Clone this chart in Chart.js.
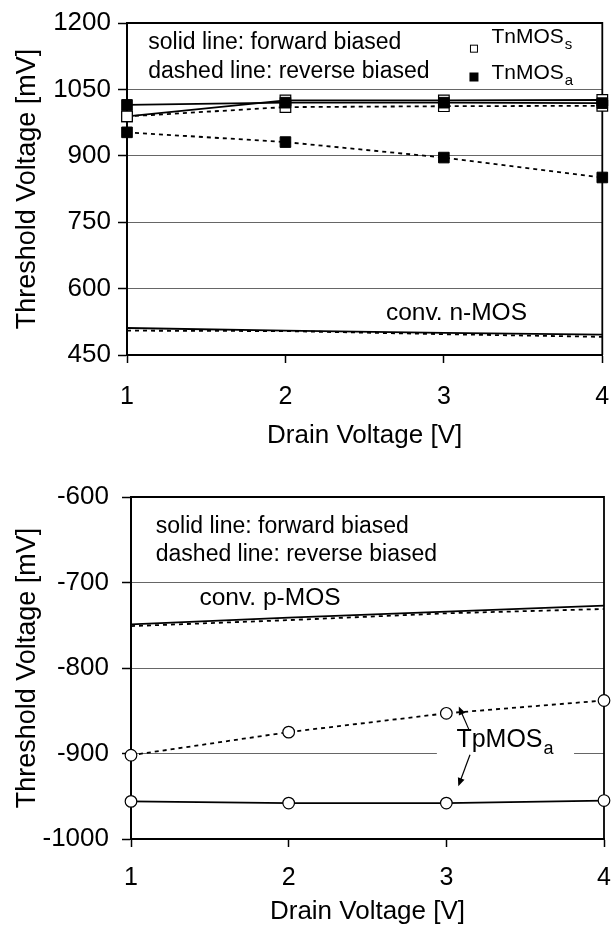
<!DOCTYPE html>
<html>
<head>
<meta charset="utf-8">
<title>Threshold voltage vs drain voltage</title>
<script src="https://cdn.jsdelivr.net/npm/chart.js@4.4.1/dist/chart.umd.min.js"></script>
<style>
  html, body { margin: 0; padding: 0; background: #fff; }
  .panel { position: absolute; left: 0; width: 611px; }
  #topPanel { top: 0; height: 460px; }
  #bottomPanel { top: 460px; height: 467px; }
  canvas { display: block; }
</style>
</head>
<body>
<div class="panel" id="topPanel"><canvas id="nChart" width="611" height="460"></canvas></div>
<div class="panel" id="bottomPanel"><canvas id="pChart" width="611" height="467"></canvas></div>
<script>
// drain voltage [V]
const drainVoltage = [1, 2, 3, 4];

// top panel, threshold voltage [mV]
const tnmosSForward = [989, 1025, 1025, 1026];
const tnmosSReverse = [989, 1010, 1012, 1013];
const tnmosAForward = [1015, 1020, 1020, 1019];
const tnmosAReverse = [953, 931, 896, 851];
const convNForward = [511, 505, 500, 496];
const convNReverse = [505, 504, 497, 491];
const nTicks = [450, 600, 750, 900, 1050, 1200];

// bottom panel, threshold voltage [mV]
const convPForward = [-749, -741, -734, -727];
const convPReverse = [-751, -744, -736, -731];
const tpmosAForward = [-956, -958, -958, -955];
const tpmosAReverse = [-902, -875, -853, -838];
const pTicks = [-1000, -900, -800, -700, -600];

const FONT = "'Liberation Sans', Arial, sans-serif";

function toPoints(values) {
    return drainVoltage.map((x, i) => ({ x: x, y: values[i] }));
}

function line(label, values, dashed, extra) {
    return Object.assign({
        label: label,
        data: toPoints(values),
        borderColor: '#000',
        borderWidth: 1.8,
        borderDash: dashed ? [4, 4] : [],
        pointRadius: 0,
        tension: 0,
        fill: false,
        clip: false
    }, extra || {});
}

const openSquare = { pointStyle: 'rect', pointRadius: 7.5, pointBackgroundColor: '#fff', pointBorderColor: '#000', pointBorderWidth: 1.2 };
const blackSquare = { pointStyle: 'rect', pointRadius: 7.5, pointBackgroundColor: '#000', pointBorderColor: '#000', pointBorderWidth: 1 };
const openCircle = { pointStyle: 'circle', pointRadius: 5.8, pointBackgroundColor: '#fff', pointBorderColor: '#000', pointBorderWidth: 1.2 };

function drawText(ctx, x, y, t) {
    ctx.fillStyle = '#000';
    ctx.textAlign = 'left';
    ctx.textBaseline = 'middle';
    ctx.font = t.size + 'px ' + FONT;
    ctx.fillText(t.text, x, y);
    if (t.sub) {
        const w = ctx.measureText(t.text).width;
        ctx.font = Math.round(t.size * 0.7) + 'px ' + FONT;
        ctx.fillText(t.sub, x + w + 1, y + t.size * 0.38);
    }
}

function drawArrow(ctx, x0, y0, x1, y1) {
    const ang = Math.atan2(y1 - y0, x1 - x0);
    const len = 9;
    ctx.strokeStyle = '#000';
    ctx.lineWidth = 1.2;
    ctx.beginPath();
    ctx.moveTo(x0, y0);
    ctx.lineTo(x1 - Math.cos(ang) * len * 0.8, y1 - Math.sin(ang) * len * 0.8);
    ctx.stroke();
    ctx.fillStyle = '#000';
    ctx.beginPath();
    ctx.moveTo(x1, y1);
    ctx.lineTo(x1 - len * Math.cos(ang - 0.4), y1 - len * Math.sin(ang - 0.4));
    ctx.lineTo(x1 - len * Math.cos(ang + 0.4), y1 - len * Math.sin(ang + 0.4));
    ctx.closePath();
    ctx.fill();
}

// frame, label boxes, texts and arrows; positions given in data units
function notesPlugin(notes) {
    return {
        id: 'notes',
        beforeDatasetsDraw(chart) {
            const { ctx, chartArea: a, scales: { x, y } } = chart;
            ctx.save();
            (notes.boxes || []).forEach(b => {
                const px0 = x.getPixelForValue(b.x0), px1 = x.getPixelForValue(b.x1);
                const py0 = y.getPixelForValue(b.y0), py1 = y.getPixelForValue(b.y1);
                ctx.fillStyle = '#fff';
                ctx.fillRect(px0, py0, px1 - px0, py1 - py0);
            });
            ctx.strokeStyle = '#000';
            ctx.lineWidth = 1.8;
            ctx.beginPath();
            ctx.moveTo(a.left, a.top);
            ctx.lineTo(a.right, a.top);
            ctx.lineTo(a.right, a.bottom);
            ctx.stroke();
            ctx.restore();
        },
        afterDatasetsDraw(chart) {
            const { ctx, scales: { x, y } } = chart;
            ctx.save();
            (notes.texts || []).forEach(t => {
                drawText(ctx, x.getPixelForValue(t.x), y.getPixelForValue(t.y), t);
            });
            (notes.keys || []).forEach(k => {
                const cx = x.getPixelForValue(k.x), cy = y.getPixelForValue(k.y);
                ctx.fillStyle = k.fill;
                ctx.strokeStyle = '#000';
                ctx.lineWidth = 1;
                ctx.fillRect(cx - k.side / 2, cy - k.side / 2, k.side, k.side);
                ctx.strokeRect(cx - k.side / 2, cy - k.side / 2, k.side, k.side);
            });
            (notes.arrows || []).forEach(r => {
                drawArrow(ctx, x.getPixelForValue(r.from[0]), y.getPixelForValue(r.from[1]),
                    x.getPixelForValue(r.to[0]), y.getPixelForValue(r.to[1]));
            });
            ctx.restore();
        }
    };
}

function buildChart(id, cfg) {
    return new Chart(document.getElementById(id), {
        type: 'line',
        data: { datasets: cfg.datasets },
        options: {
            responsive: false,
            animation: false,
            devicePixelRatio: 1,
            layout: { padding: cfg.padding },
            plugins: { legend: { display: false }, tooltip: { enabled: false } },
            scales: {
                x: {
                    type: 'linear',
                    min: 1,
                    max: 4,
                    afterBuildTicks: s => { s.ticks = drainVoltage.map(v => ({ value: v })); },
                    afterFit: s => {
                        s.height = cfg.xHeight;
                        s.paddingLeft = 0;
                        s.paddingRight = 0;
                    },
                    grid: { drawOnChartArea: false, drawTicks: true, tickLength: 8, tickColor: '#000', tickWidth: 1.5 },
                    border: { color: '#000', width: 2 },
                    ticks: { color: '#000', font: { family: FONT, size: 25 }, padding: cfg.xTickPad, maxRotation: 0, callback: v => String(v) },
                    title: { display: true, text: 'Drain Voltage [V]', color: '#000', font: { family: FONT, size: 26 }, padding: { top: 0, bottom: cfg.xTitlePad } }
                },
                y: {
                    min: cfg.yTicks[0],
                    max: cfg.yTicks[cfg.yTicks.length - 1],
                    afterBuildTicks: s => { s.ticks = cfg.yTicks.map(v => ({ value: v })); },
                    afterFit: s => {
                        s.width = cfg.yWidth;
                        s.paddingTop = 0;
                        s.paddingBottom = 0;
                    },
                    grid: { color: '#666', lineWidth: 1, tickLength: 9, tickColor: '#000', tickWidth: 1.5 },
                    border: { color: '#000', width: 2 },
                    ticks: { color: '#000', font: { family: FONT, size: 26 }, padding: cfg.yTickPad, callback: v => String(v) },
                    title: { display: true, text: 'Threshold Voltage [mV]', color: '#000', font: { family: FONT, size: 27 }, padding: { top: 11, bottom: 0 } }
                }
            }
        },
        plugins: [notesPlugin(cfg.notes)]
    });
}

buildChart('nChart', {
    padding: { left: 0, right: 8, top: 23, bottom: 0 },
    yWidth: 127,
    yTickPad: 7,
    xHeight: 105,
    xTickPad: 19,
    xTitlePad: 9,
    yTicks: nTicks,
    datasets: [
        line('TnMOSa forward', tnmosAForward, false, blackSquare),
        line('TnMOSa reverse', tnmosAReverse, true, blackSquare),
        line('TnMOSs forward', tnmosSForward, false, openSquare),
        line('TnMOSs reverse', tnmosSReverse, true, openSquare),
        line('conv. n-MOS forward', convNForward, false),
        line('conv. n-MOS reverse', convNReverse, true)
    ],
    notes: {
        texts: [
            { x: 1.134, y: 1155, text: 'solid line: forward biased', size: 23 },
            { x: 1.134, y: 1090, text: 'dashed line: reverse biased', size: 23 },
            { x: 3.30, y: 1168, text: 'TnMOS', sub: 's', size: 21 },
            { x: 3.30, y: 1087, text: 'TnMOS', sub: 'a', size: 21 }
            ,
            { x: 2.634, y: 544, text: 'conv. n-MOS', size: 24.5 }
        ],
        keys: [
            { x: 3.19, y: 1142, fill: '#fff', side: 7 },
            { x: 3.19, y: 1078, fill: '#000', side: 8 }
        ]
    }
});

buildChart('pChart', {
    padding: { left: 0, right: 3, top: 37, bottom: 0 },
    yWidth: 131,
    yTickPad: 13,
    xHeight: 88,
    xTickPad: 16,
    xTitlePad: 0,
    yTicks: pTicks,
    datasets: [
        line('TpMOSa forward', tpmosAForward, false, openCircle),
        line('TpMOSa reverse', tpmosAReverse, true, openCircle),
        line('conv. p-MOS forward', convPForward, false),
        line('conv. p-MOS reverse', convPReverse, true)
    ],
    notes: {
        boxes: [{ x0: 2.94, x1: 3.81, y0: -875, y1: -925 }],
        texts: [
            { x: 1.157, y: -635, text: 'solid line: forward biased', size: 23 },
            { x: 1.157, y: -668, text: 'dashed line: reverse biased', size: 23 },
            { x: 1.434, y: -718.6, text: 'conv. p-MOS', size: 24.5 },
            { x: 3.064, y: -884, text: 'TpMOS', sub: 'a', size: 25 }
        ],
        arrows: [
            { from: [3.142, -871.5], to: [3.079, -845] },
            { from: [3.150, -901.4], to: [3.076, -938.4] }
        ]
    }
});
</script>
</body>
</html>
